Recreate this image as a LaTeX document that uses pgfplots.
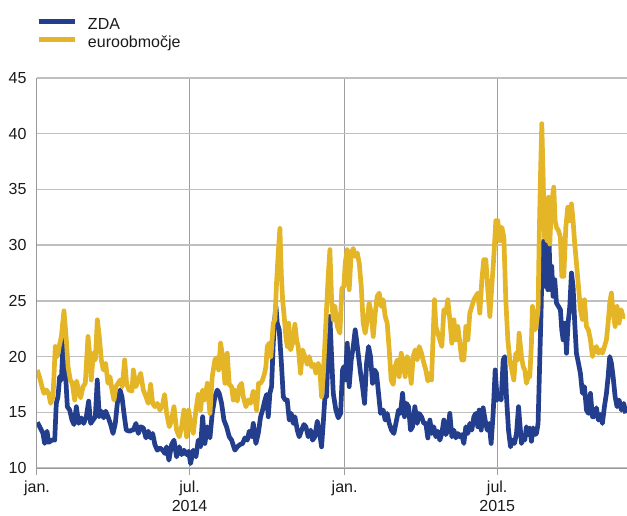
\documentclass[border=0pt]{standalone}
\usepackage{fontspec}
\setmainfont{Liberation Sans}
\usepackage{pgfplots}
\pgfplotsset{compat=1.18}
\definecolor{zdablue}{HTML}{233E8C}
\definecolor{euyellow}{HTML}{E4B526}
\definecolor{txt}{HTML}{1A1A1A}
\begin{document}
\begin{tikzpicture}[x=1pt,y=1pt]
\begin{axis}[
  name=ax, at={(0,0)}, anchor=south west,
  scale only axis, width=590pt, height=390pt,
  xmin=0, xmax=700, ymin=10, ymax=45,
  ytick={10,15,...,45},
  xtick={0,181,365,546},
  xticklabels={jan.,{jul.\\2014},jan.,{jul.\\2015}},
  xticklabel style={align=center, font=\fontsize{16}{19}\selectfont, text=txt, yshift=-2.5pt},
  yticklabel style={font=\fontsize{16}{16}\selectfont, text=txt},
  /pgf/number format/assume math mode=true,
  axis x line*=bottom, axis y line*=left,
  axis line style={-, draw=gray!80, line width=1pt},
  ymajorgrids, xmajorgrids,
  y grid style={draw=gray!50, line width=1.3pt},
  x grid style={draw=gray!75, line width=1pt},
  ytick style={draw=none},
  xtick style={draw=gray!75, line width=1pt},
  tick align=outside, major tick length=7pt,
  legend style={at={(axis description cs:0,1)}, anchor=south west, xshift=-1pt, yshift=28.5pt,
    draw=none, fill=none, inner sep=0pt, row sep=5pt, column sep=11pt,
    font=\fontsize{16}{16}\selectfont, text=txt, nodes={inner sep=0pt}},
  legend cell align=left,
  legend image code/.code={\draw[#1, line width=4.8pt] (0pt,0.35em) -- (36pt,0.35em);},
]
\addplot[zdablue, line width=4.7pt, line join=round] coordinates {
(0.4,14.1) (3.2,13.7) (7.1,13.1) (9.1,12.2) (11.9,13.3) (13.8,12.3) (17.8,12.5) (21,12.5) (22.9,15.8) (24.9,16.4) (26.9,18.2) (28.9,17.9) (31.2,21.5) (33.6,18.8) (36,15.5) (38.8,15.2) (41.5,14.3) (43.9,13.9) (46.7,15.5) (49.4,14.0) (52.6,14.5) (55.4,14.0) (58.5,14.6) (61.3,16.0) (63.7,14.0) (66.4,14.3) (69.2,14.6) (71.5,17.9) (73.9,14.6) (76.3,15.1) (79.1,14.5) (81.5,15.1) (84.2,14.6) (87.4,13.9) (90.2,13.1) (92.9,14.0) (95.3,15.8) (98.5,17.0) (100.8,16.4) (103.2,14.9) (105.9,13.4) (110,13.3) (112.7,13.4)
(114.3,13.4) (117.4,14.0) (120.2,13.1) (123.0,13.7) (126.1,13.6) (129.3,12.7) (132.0,13.3) (134.8,12.7) (137.2,13.1) (139.9,12.1) (142.7,11.6) (145.9,11.8) (149.0,11.6) (151.8,11.3) (153.8,11.9) (156.5,10.7) (159.7,12.1) (162.5,12.5) (165.6,11.0) (168.8,11.9) (171.6,11.2) (174.3,11.6) (177.5,11.2) (179.9,11.5) (182.2,10.4) (185.4,11.6) (188.6,11.0) (191.3,12.5) (194.1,11.9) (196.5,14.6) (199.2,12.2) (202.0,13.7) (205.2,12.7) (207.9,14.9) (211.1,16.4) (213.9,17.0) (216.2,16.7) (219.0,15.8) (221.8,14.3) (224.9,13.7) (228.1,12.8) (230.9,12.5)
(234.8,11.6) (237.6,11.9) (240.8,12.1) (243.9,12.2) (246.7,12.7) (249.5,12.5) (251.8,13.3) (254.6,12.8) (256.6,14.0) (259.7,12.2) (262.5,13.1) (265.3,14.6) (267.6,15.2) (270.4,16.1) (272.4,16.6) (274.4,14.6) (276.3,16.7) (278.3,17.3) (280.3,21.2) (282.3,23.6) (283.5,24.5) (285.0,23.0) (287.4,22.4) (290.2,19.1) (292.2,16.4) (294.5,16.1) (296.9,16.1) (299.3,14.3) (301.6,14.9) (304.0,14.0) (306.0,14.6) (308.8,13.4) (311.1,12.8) (313.9,13.4) (316.7,13.9) (319.0,13.7) (321.8,12.8) (324.6,13.4) (326.9,12.5) (329.7,12.8) (332.5,14.2) (334.8,13.4) (337.6,11.9) (339.6,14.0) (341.6,16.4) (343.5,16.4) (345.5,20.6) (347.5,23.6)
(349.5,20.0) (351.5,16.7) (354.6,15.2) (357.4,14.5) (360.2,14.9) (362.5,18.8) (364.1,19.1) (365.7,17.9) (368.1,21.2) (370.4,17.3) (372.8,19.7) (375.2,20.9) (377.5,22.4) (379.1,21.5) (381.5,20.0) (383.9,18.5) (386.2,17.3) (388.6,15.8) (391.0,19.4) (393.4,20.9) (395.7,20.0) (398.1,17.6) (400.5,18.8) (402.8,18.5) (405.2,16.7) (407.6,14.9) (410.7,15.2) (413.1,14.3) (415.5,14.9) (417.9,14.0) (420.6,13.4) (423.4,13.1) (426.6,14.3) (428.9,15.2) (431.3,14.9) (433.7,16.7) (436.0,14.6) (438.4,15.8) (440.8,15.5) (443.2,13.4) (445.5,13.7) (448.3,15.5) (451.1,14.0) (453.4,14.9) (456.2,14.6) (459.0,14.0) (461.3,14.0) (463.7,12.7) (466.1,14.3)
(468.5,13.1) (470.8,13.7) (473.2,12.8) (475.6,13.3) (477.9,12.5) (480.3,13.1) (482.7,14.3) (485.1,13.0) (487.4,13.4) (489.8,14.9) (492.2,12.8) (494.6,13.4) (496.9,12.7) (499.3,13.1) (501.7,12.8) (504.0,13.0) (506.4,12.2) (508.8,13.7) (511.2,13.1) (513.5,14.0) (515.9,13.4) (518.3,14.6) (520.6,14.9) (523.0,13.7) (524.6,15.2) (527.0,13.4) (529.3,15.4) (531.7,14.3) (534.1,13.4) (536.5,14.0) (538.8,12.2) (541.2,14.9) (543.6,18.8) (546.0,16.1) (548.3,16.4) (550.7,16.1) (553.1,19.7) (555.0,20.0) (557.0,16.4) (559.4,13.4) (561.8,11.9) (564.1,12.5) (566.5,12.2) (568.9,13.1) (571.3,15.5)
(574.8,12.2) (576.8,12.8) (578.7,12.5) (580.7,13.7) (582.7,13.0) (584.7,13.6) (586.6,12.4) (588.6,13.6) (590.6,13.0) (592.6,13.1) (594.5,14.0) (596.5,19.7) (598.1,24.2) (599.7,30.1) (601.3,30.4) (602.5,26.3) (604.4,30.7) (606.0,26.0) (607.6,30.1) (609.2,26.0) (610.7,28.1) (612.3,25.4) (614.3,26.9) (616.3,24.8) (618.7,24.5) (621.0,24.2) (622.6,22.4) (624.2,21.5) (626.6,23.0) (628.2,20.3) (630.1,23.0) (632.1,24.5) (634.1,27.5) (636.0,26.3) (638.0,23.0) (640.0,20.3) (642.4,19.4) (644.7,18.5) (647.1,16.7) (649.5,17.3) (651.9,15.2) (654.2,14.9) (656.6,16.7) (659.0,14.6) (661.3,14.6) (663.7,15.4) (666.1,14.3) (668.5,14.8) (670.8,14.0) (673.2,15.5) (675.6,16.7) (677.6,18.2) (679.5,20.0) (681.5,19.4) (683.5,18.2) (685.9,16.4) (688.2,15.5) (690.6,16.1) (693.4,15.2) (696.1,15.8) (698.5,14.9)
};
\addlegendentry{ZDA}
\addplot[euyellow, line width=4.7pt, line join=round] coordinates {
(0.4,18.8) (3.2,18.1) (5.9,17.3) (8.3,16.7) (11.1,17.0) (13.8,16.7) (16.2,15.8) (19.0,16.4) (21.7,20.9) (24.1,20.0) (26.9,21.1) (28.9,21.8) (32.0,24.1) (34.8,21.5) (36.8,19.1) (39.5,17.9) (41.9,17.6) (44.7,16.1) (47.0,17.8) (49.4,16.9) (51.8,16.3) (54.6,17.3) (57.3,17.6) (60.5,21.8) (62.9,19.9) (64.4,17.9) (66.8,20.3) (69.2,19.7) (71.6,23.3) (73.9,21.8) (76.3,19.7) (78.7,18.8) (81.4,19.4) (84.2,17.6) (86.6,18.2) (89.0,17.0) (91.3,16.1) (93.7,17.3) (96.1,17.6) (98.8,17.9) (101.2,17.3) (104.0,19.7) (106.3,17.6) (109.1,17.0) (112.7,16.9)
(114.3,18.8) (117.4,17.3) (120.2,17.9) (123.0,18.5) (126.1,17.0) (129.3,16.4) (132.0,15.8) (134.8,17.5) (137.2,15.8) (139.9,15.5) (142.7,15.8) (145.9,15.2) (149.0,15.7) (151.4,16.6) (153.8,14.9) (157.0,13.7) (159.7,14.3) (162.5,15.5) (165.6,13.4) (168.8,12.8) (171.6,13.7) (174.3,15.2) (177.5,12.8) (179.9,15.2) (182.2,14.0) (185.4,13.1) (188.6,15.2) (191.3,16.6) (194.1,15.2) (196.5,17.0) (199.2,16.1) (202.0,17.6) (205.2,14.9) (207.9,18.2) (211.1,19.7) (213.1,19.9) (215.5,18.8) (217.8,21.2) (220.2,20.0) (223.0,17.6) (225.7,20.3) (228.1,17.5) (230.9,17.3)
(232.9,16.1) (234.8,17.0) (237.6,16.0) (240.0,17.3) (242.7,17.6) (244.7,16.4) (247.9,15.5) (250.6,16.1) (253.4,15.8) (256.6,16.9) (258.9,16.1) (260.5,15.2) (262.9,17.6) (265.3,17.6) (267.6,17.9) (270.0,18.5) (271.6,19.1) (273.2,20.9) (275.5,21.2) (277.5,20.0) (280.3,23.0) (282.3,23.3) (284.2,26.6) (286.2,29.3) (288.2,31.5) (289.8,27.5) (291.4,25.1) (292.9,23.9) (295.3,21.8) (296.9,20.9) (298.5,23.0) (300.8,20.6) (303.2,21.2) (306.0,22.9) (308.0,21.5) (309.9,20.9) (312.7,18.5) (315.1,20.6) (317.8,20.0) (320.6,19.3) (323.0,20.0) (325.7,19.1) (328.5,19.3) (330.9,18.5) (333.7,19.4) (335.6,18.8) (337.6,16.4) (339.6,18.2) (341.6,21.2) (343.5,24.2) (345.5,27.2) (347.5,29.6)
(349.5,25.1) (351.5,23.3) (353.4,24.5) (356.2,22.7) (359.4,22.1) (361.7,26.1) (364.1,26.3) (365.7,28.4) (368.1,29.6) (370.4,26.0) (372.8,29.3) (375.2,29.7) (377.5,29.0) (379.9,29.3) (382.3,28.4) (384.7,26.3) (387.0,23.0) (389.4,22.1) (391.8,23.3) (394.1,24.8) (396.5,23.9) (398.9,21.8) (401.3,23.9) (403.6,25.4) (406.0,25.7) (408.4,24.5) (410.7,25.1) (413.1,23.6) (415.5,23.0) (417.9,20.6) (420.2,17.9) (422.6,17.5) (425.0,19.1) (427.4,19.7) (429.7,18.2) (432.1,20.3) (434.5,19.4) (436.8,18.2) (439.2,20.0) (441.6,19.4) (444.0,17.6) (446.3,20.0) (448.7,20.6) (451.1,19.7) (453.4,20.9) (456.2,20.3) (459.0,19.4) (461.3,18.8) (463.7,17.8) (466.1,18.5)
(468.1,17.9) (470.1,22.1) (471.6,25.1) (473.2,22.7) (475.6,22.1) (477.9,21.5) (480.3,20.9) (482.7,24.2) (485.1,23.9) (487.4,25.1) (489.8,23.3) (492.2,21.2) (494.6,23.3) (496.9,21.5) (499.3,22.7) (501.7,21.2) (504.0,19.7) (506.4,19.7) (508.8,22.7) (511.2,21.5) (513.5,23.9) (515.9,24.5) (518.3,25.1) (520.6,25.4) (523.0,25.7) (525.4,23.9) (527.8,26.9) (530.1,28.7) (532.5,28.7) (534.9,26.0) (537.3,23.6) (539.6,26.3) (542.0,29.0) (544.4,32.2) (546.7,32.2) (549.1,30.4) (551.5,31.6) (553.9,30.7) (556.2,25.1) (558.6,21.5) (561.0,19.7) (563.3,18.8) (565.7,17.9) (568.1,20.3) (570.5,19.7) (572.0,22.1)
(574.8,20.0) (576.8,19.1) (578.7,18.8) (580.7,17.6) (582.7,18.2) (584.7,18.2) (586.6,21.2) (587.8,24.5) (589.4,23.6) (591.0,22.4) (592.6,23.0) (594.5,24.2) (595.7,30.1) (597.3,36.1) (598.9,40.9) (600.5,36.1) (602.1,30.7) (603.6,33.1) (605.2,30.4) (606.8,34.3) (608.4,30.1) (610.0,33.1) (611.5,34.3) (613.1,35.2) (614.7,32.2) (616.3,31.6) (618.7,31.3) (621.0,30.7) (622.6,27.2) (625.0,27.2) (627.4,31.6) (629.7,33.4) (632.1,32.2) (634.1,33.7) (636.0,32.2) (638.0,30.1) (640.0,28.4) (642.4,26.3) (644.7,24.2) (647.1,23.3) (649.5,25.1) (651.9,22.7) (654.2,22.4) (656.6,21.5) (659.0,20.0) (661.3,20.6) (663.7,20.9) (666.1,20.3) (668.5,20.6) (670.8,20.3) (673.2,20.9) (675.6,21.5) (677.6,23.0) (679.5,24.8) (681.5,25.7) (683.5,23.9) (685.9,22.7) (688.2,24.5) (690.6,23.0) (693.0,24.2) (695.3,23.6) (697.7,23.6)
};
\addlegendentry{euroobmočje}
\end{axis}
\pgfresetboundingbox
\path ([shift={(-37pt,-47pt)}]ax.south west) rectangle ([shift={(0pt,78pt)}]ax.north east);
\end{tikzpicture}
\end{document}
